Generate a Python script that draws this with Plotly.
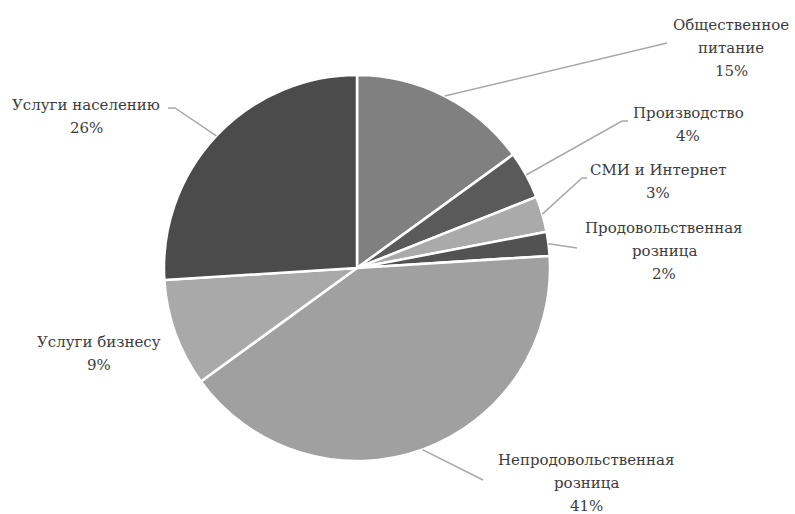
import math
import plotly.graph_objects as go

categories = ["Общественное питание", "Производство", "СМИ и Интернет",
              "Продовольственная розница", "Непродовольственная розница",
              "Услуги бизнесу", "Услуги населению"]
label_lines = [["Общественное", "питание"], ["Производство"], ["СМИ и Интернет"],
               ["Продовольственная", "розница"], ["Непродовольственная", "розница"],
               ["Услуги бизнесу"], ["Услуги населению"]]
values = [15, 4, 3, 2, 41, 9, 26]
colors = ["#808080", "#5a5a5a", "#aaaaaa", "#525252", "#a0a0a0", "#a9a9a9", "#4b4b4b"]

W, H = 795, 514
CX, CY, R = 357, 268, 193
LINE_GAP = 23

# label centre x and first-line y (px); leader-line elbow/end points (px); None = no line
label_pos = [(731, 25), (688, 113), (658, 170), (664, 228), (586, 460), (99, 342), (86, 105)]
leader = [[(667, 43)], [(622, 121), (628, 121)], [(582, 178), (587, 178)],
          [(577, 248)], [(483, 480)], None, [(175, 108), (168, 108)]]

def px(x, y):
    return x / W, 1 - y / H

fig = go.Figure(go.Pie(
    labels=categories, values=values, sort=False, direction="clockwise", rotation=0,
    marker=dict(colors=colors, line=dict(color="white", width=2.5)),
    textinfo="none", hoverinfo="label+percent", showlegend=False,
    domain=dict(x=[(CX - R) / W, (CX + R) / W], y=[1 - (CY + R) / H, 1 - (CY - R) / H]),
))

total = sum(values)
cum = 0
shapes, annotations = [], []
for i, v in enumerate(values):
    mid = (cum + v / 2) / total * 2 * math.pi
    cum += v
    pct = round(v / total * 100)
    lines = label_lines[i] + [f"{pct}%"]
    lx, ly = label_pos[i]
    for k, line in enumerate(lines):
        ax_, ay_ = px(lx, ly + k * LINE_GAP)
        annotations.append(dict(x=ax_, y=ay_, xref="paper", yref="paper", text=line,
                                showarrow=False, xanchor="center", yanchor="middle",
                                font=dict(family="DejaVu Serif", size=15, color="#3c3c3c")))
    if leader[i]:
        ex = CX + R * math.sin(mid)
        ey = CY - R * math.cos(mid)
        pts = [(ex, ey)] + leader[i]
        path = ""
        for j, (x, y) in enumerate(pts):
            X, Y = px(x, y)
            path += ("M" if j == 0 else " L") + f" {X:.5f} {Y:.5f}"
        shapes.append(dict(type="path", path=path, xref="paper", yref="paper",
                           line=dict(color="#a8a8a8", width=1.5)))

fig.update_layout(width=W, height=H, margin=dict(l=0, r=0, t=0, b=0),
                  paper_bgcolor="white", plot_bgcolor="white",
                  shapes=shapes, annotations=annotations)
fig.write_html("out.html", config={"displayModeBar": False},
               post_script="document.body.style.margin='0';document.body.style.padding='0';")
